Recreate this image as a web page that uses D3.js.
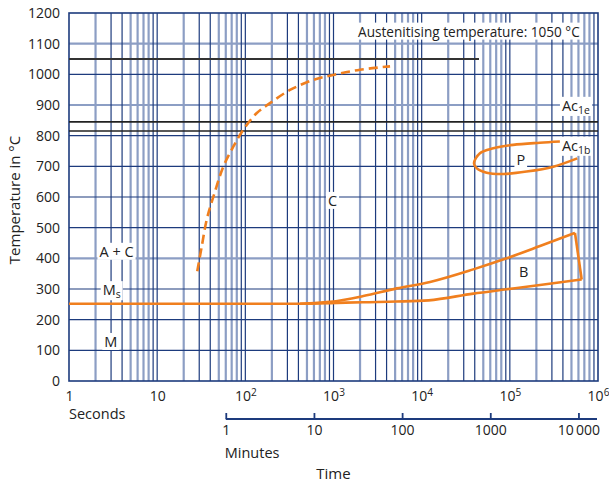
<!DOCTYPE html>
<html>
<head>
<meta charset="utf-8">
<script src="https://cdn.jsdelivr.net/npm/d3@7"></script>
<style>
  body { margin: 0; background: #fff; }
  svg text { font-family: "Open Sans", sans-serif; fill: #222; }
</style>
</head>
<body>
<svg id="chart"></svg>
<script>
// Axis ticks
const tempTicks = d3.range(0, 1201, 100);
const secondTicks = [1, 10, 100, 1000, 1e4, 1e5, 1e6];
const secondTickExp = [null, null, 2, 3, 4, 5, 6];
const minuteTicks = [1, 10, 100, 1000, 10000];
const minuteTickLabels = ['1', '10', '100', '1000', '10\u2009000'];

// Log paper grid: which multiples of each decade are drawn light or dark
const gridMultiples = [1, 2, 3, 4, 5, 6, 7, 8, 9];
const gridShade = ['dark', 'light', 'dark', 'dark', 'light', 'light', 'light', 'light', 'dark'];
const tempGridLight = [1100, 900, 400];

// Reference temperatures
const austenitising = 1050;
const austenitisingEnd = 44700; // seconds, where the line stops
const ac1e = 845;
const ac1b = 815;

// Transformation curves, [seconds, °C]
const bainiteStart = [[1, 252], [417, 252], [912, 258], [2177, 277], [5210, 302], [12450, 323],
  [38500, 364], [92000, 400], [220000, 440], [548000, 483]];
const bainiteEnd = [[417, 252], [913, 254], [2150, 257], [5200, 259], [12000, 263],
  [38500, 285], [92000, 299], [220000, 313], [653000, 331]];
const pearlite = [[370000, 781], [219000, 777], [109000, 770], [64900, 759], [45800, 743],
  [39200, 710], [42000, 694], [54600, 679], [84300, 675], [155000, 683], [311000, 699], [582000, 726]];
const carbide = [[28.5, 358], [32, 438], [36.4, 525], [43.4, 601], [56.3, 699], [73, 764],
  [94.8, 819], [134, 873], [190, 906], [321, 949], [590, 982], [995, 998], [2000, 1015], [4380, 1026]];

// Annotations: text, subscript, seconds, °C, anchor, font size
const notes = [
  ['Austenitising temperature: 1050 °C', '', 1900, 1123, 'start', 13.6],
  ['A + C', '', 3.46, 405, 'middle', 14.5],
  ['M', 's', 2.41, 280, 'start', 14.5],
  ['M', '', 2.98, 111, 'middle', 14.5],
  ['C', '', 974, 571, 'middle', 14.5],
  ['P', '', 133000, 704, 'middle', 14.5],
  ['B', '', 143600, 340, 'middle', 14.5],
  ['Ac', '1e', 390000, 881, 'start', 14.5],
  ['Ac', '1b', 390000, 751, 'start', 14.5]
];

const width = 609;
const height = 484;
const plot = { left: 69, right: 598, top: 13, bottom: 381 };
const light = '#8c9ec4';
const dark = '#1d3b7d';
const orange = '#f07f1e';

const svg = d3.select('#chart')
  .attr('width', width)
  .attr('height', height);

const x = d3.scaleLog().domain([1, 1e6]).range([plot.left, plot.right]);
const xMin = d3.scaleLog().domain([1 / 60, 1e6 / 60]).range([plot.left, plot.right]);
const y = d3.scaleLinear().domain([0, 1200]).range([plot.bottom, plot.top]);

// Grid, light lines first so the dark ones sit on top
const gridValues = [];
d3.range(0, 6).forEach(d => gridMultiples.forEach((m, i) => {
  if (m * 10 ** d > 1) gridValues.push({ v: m * 10 ** d, shade: gridShade[i] });
}));
const tempGrid = tempTicks.filter(t => t > 0 && t < 1200)
  .map(t => ({ v: t, shade: tempGridLight.includes(t) ? 'light' : 'dark' }));

const grid = svg.append('g');
['light', 'dark'].forEach(shade => {
  grid.selectAll(null)
    .data(gridValues.filter(g => g.shade === shade))
    .join('line')
    .attr('x1', d => x(d.v)).attr('x2', d => x(d.v))
    .attr('y1', plot.top).attr('y2', plot.bottom)
    .attr('stroke', shade === 'light' ? light : dark)
    .attr('stroke-width', shade === 'light' ? 2.2 : 1.2);
  grid.selectAll(null)
    .data(tempGrid.filter(g => g.shade === shade))
    .join('line')
    .attr('x1', plot.left).attr('x2', plot.right)
    .attr('y1', d => y(d.v)).attr('y2', d => y(d.v))
    .attr('stroke', shade === 'light' ? light : dark)
    .attr('stroke-width', shade === 'light' ? 2.2 : 1.2);
});

svg.append('rect')
  .attr('x', plot.left).attr('y', plot.top)
  .attr('width', plot.right - plot.left).attr('height', plot.bottom - plot.top)
  .attr('fill', 'none').attr('stroke', dark).attr('stroke-width', 1.6);

// Black reference lines
svg.append('line')
  .attr('x1', x(1)).attr('x2', x(austenitisingEnd))
  .attr('y1', y(austenitising)).attr('y2', y(austenitising))
  .attr('stroke', '#333').attr('stroke-width', 1.8);
[ac1e, ac1b].forEach(t => svg.append('line')
  .attr('x1', plot.left).attr('x2', plot.right)
  .attr('y1', y(t)).attr('y2', y(t))
  .attr('stroke', '#222').attr('stroke-width', 1.6));

// Curves
const smooth = d3.line().x(d => x(d[0])).y(d => y(d[1])).curve(d3.curveMonotoneX);
const loose = d3.line().x(d => x(d[0])).y(d => y(d[1])).curve(d3.curveCatmullRom.alpha(0.5));
const straight = d3.line().x(d => x(d[0])).y(d => y(d[1]));

const curves = svg.append('g')
  .attr('fill', 'none').attr('stroke', orange).attr('stroke-width', 2.6)
  .attr('stroke-linejoin', 'round');
curves.append('path').attr('d', smooth(bainiteStart));
curves.append('path').attr('d', smooth(bainiteEnd));
curves.append('path').attr('d', straight([bainiteStart[bainiteStart.length - 1], bainiteEnd[bainiteEnd.length - 1]]));
curves.append('path').attr('d', loose(pearlite));
curves.append('path').attr('d', loose(carbide)).attr('stroke-dasharray', '9 5');

// Annotations with white boxes
const labels = svg.append('g');
notes.forEach(([text, sub, t, T, anchor, size]) => {
  const g = labels.append('g');
  const txt = g.append('text').attr('x', x(t)).attr('y', y(T))
    .attr('text-anchor', anchor).attr('font-size', size);
  txt.append('tspan').text(text);
  if (sub) txt.append('tspan').attr('font-size', '0.72em').attr('dy', '0.3em').text(sub);
  const b = txt.node().getBBox();
  g.insert('rect', 'text')
    .attr('x', b.x - 2).attr('y', b.y + 1)
    .attr('width', b.width + 4).attr('height', b.height - 2)
    .attr('fill', '#fff');
});

// Temperature axis
const yAxis = svg.append('g')
  .attr('transform', `translate(${plot.left}, 0)`)
  .call(d3.axisLeft(y).tickValues(tempTicks).tickSize(0).tickPadding(9).tickFormat(d3.format('d')));
yAxis.select('.domain').remove();
yAxis.selectAll('text').attr('font-size', 14).attr('font-family', null);

svg.append('text')
  .attr('transform', `translate(20, ${(plot.top + plot.bottom) / 2 + 3}) rotate(-90)`)
  .attr('text-anchor', 'middle')
  .attr('font-size', 15)
  .text('Temperature in °C');

// Seconds axis
const xAxis = svg.append('g')
  .attr('transform', `translate(0, ${plot.bottom})`)
  .call(d3.axisBottom(x).tickValues(secondTicks).tickSize(0).tickPadding(10));
xAxis.select('.domain').remove();
xAxis.selectAll('.tick text').each(function (d, i) {
  const t = d3.select(this).attr('font-size', 14).attr('font-family', null).text('');
  const exp = secondTickExp[i];
  t.append('tspan').text(exp == null ? String(d) : '10');
  if (exp != null) t.append('tspan').attr('dy', '-0.45em').attr('font-size', '0.72em').text(exp);
});

svg.append('text')
  .attr('x', plot.left).attr('y', 419)
  .attr('font-size', 14.5)
  .text('Seconds');

// Minutes axis
const minY = 419;
const minAxis = svg.append('g')
  .attr('transform', `translate(0, ${minY})`)
  .call(d3.axisBottom(xMin).tickValues(minuteTicks).tickSizeInner(-6).tickSizeOuter(0).tickPadding(6)
    .tickFormat((d, i) => minuteTickLabels[i]));
minAxis.select('.domain').remove();
minAxis.selectAll('.tick line').attr('stroke', dark).attr('stroke-width', 1.8);
minAxis.selectAll('.tick text').attr('font-size', 14).attr('font-family', null).attr('fill', '#222');
minAxis.append('line')
  .attr('x1', xMin(1)).attr('x2', plot.right - 1)
  .attr('stroke', dark).attr('stroke-width', 1.8);

svg.append('text')
  .attr('x', xMin(1) - 1).attr('y', 458)
  .attr('font-size', 14.5)
  .text('Minutes');

svg.append('text')
  .attr('x', (plot.left + plot.right) / 2).attr('y', 479)
  .attr('text-anchor', 'middle')
  .attr('font-size', 15)
  .text('Time');
</script>
</body>
</html>
